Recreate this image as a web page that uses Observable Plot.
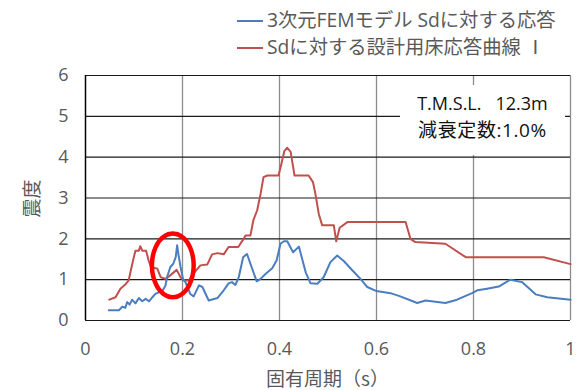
<!DOCTYPE html>
<html><head><meta charset="utf-8">
<script src="https://cdn.jsdelivr.net/npm/d3@7"></script>
<script src="https://cdn.jsdelivr.net/npm/@observablehq/plot@0.6"></script>
<style>
body{margin:0;background:#fff;font-family:"Open Sans","Noto Sans CJK JP",sans-serif}
#wrap{position:relative;width:576px;height:390px;overflow:hidden}
#chart{position:absolute;left:0;top:62px}
.leg{position:absolute;left:237px;font-size:19.3px;color:#595959;white-space:nowrap;line-height:22px}
.leg span.sw{display:inline-block;width:26px;height:2px;vertical-align:middle;margin-right:4px;position:relative;top:-1px}
#note{position:absolute;left:400px;top:85px;width:165px;height:70px;background:#fff;font-size:18px;color:#111;text-align:center;line-height:27px;padding-top:5px;box-sizing:border-box;white-space:nowrap}
#note .l2{font-size:19px;letter-spacing:0.6px}
#xtitle{position:absolute;left:85px;width:485px;top:364px;text-align:center;font-size:19px;color:#595959;font-family:"Noto Sans CJK JP",sans-serif}
#ytitle{position:absolute;left:8px;top:185px;width:44px;text-align:center;font-size:19px;color:#595959;transform:rotate(-90deg);font-family:"Noto Sans CJK JP",sans-serif}
</style></head>
<body>
<div id="wrap">
  <div class="leg" id="leg1" style="top:9px"></div>
  <div class="leg" id="leg2" style="top:36px"></div>
  <div id="chart"></div>
  <div id="note"></div>
  <div id="xtitle"></div>
  <div id="ytitle"></div>
</div>
<script>
const seriesNames = ["3次元FEMモデル Sdに対する応答", "Sdに対する設計用床応答曲線 Ⅰ"];
const seriesColors = ["#4a7ebf", "#c0504d"];
const xTicks = [0, 0.2, 0.4, 0.6, 0.8, 1];
const yTicks = [0, 1, 2, 3, 4, 5, 6];
const xTitle = "固有周期（s）";
const yTitle = "震度";
const noteLines = ["T.M.S.L.\u00a0\u00a0\u00a012.3m", "減衰定数:1.0%"];

// 3次元FEMモデル (blue) : period, seismic coefficient
const femPeriod = [0.048,0.069,0.076,0.082,0.086,0.091,0.096,0.103,0.110,0.117,0.124,0.131,0.138,0.144,0.151,0.158,0.165,0.168,0.175,0.181,0.186,0.189,0.192,0.196,0.201,0.206,0.216,0.223,0.234,0.241,0.254,0.272,0.285,0.295,0.302,0.309,0.316,0.325,0.333,0.340,0.353,0.361,0.371,0.385,0.394,0.402,0.409,0.416,0.428,0.440,0.454,0.464,0.478,0.491,0.505,0.519,0.533,0.550,0.567,0.581,0.600,0.629,0.649,0.684,0.701,0.742,0.766,0.797,0.808,0.828,0.852,0.876,0.900,0.928,0.952,1.000];
const femValue  = [0.25,0.25,0.34,0.31,0.45,0.39,0.51,0.42,0.55,0.47,0.53,0.47,0.57,0.65,0.69,0.71,0.86,1.06,1.31,1.39,1.55,1.84,1.59,1.31,1.02,0.94,0.65,0.59,0.86,0.82,0.49,0.55,0.74,0.91,0.94,0.87,1.06,1.55,1.63,1.39,0.96,1.02,1.14,1.28,1.47,1.88,1.94,1.94,1.67,1.81,1.18,0.91,0.90,1.06,1.43,1.59,1.45,1.23,1.02,0.82,0.72,0.67,0.59,0.43,0.49,0.43,0.51,0.67,0.74,0.78,0.83,1.00,0.94,0.64,0.57,0.51];

// 設計用床応答曲線 (red)
const designPeriod = [0.049,0.062,0.072,0.082,0.089,0.098,0.103,0.110,0.113,0.117,0.125,0.130,0.135,0.148,0.155,0.165,0.172,0.180,0.188,0.196,0.203,0.213,0.222,0.237,0.251,0.261,0.272,0.285,0.295,0.315,0.326,0.330,0.340,0.346,0.354,0.361,0.367,0.375,0.398,0.404,0.410,0.416,0.423,0.431,0.460,0.469,0.474,0.481,0.488,0.512,0.517,0.524,0.540,0.660,0.670,0.680,0.742,0.784,0.945,1.000];
const designValue  = [0.51,0.57,0.78,0.88,0.98,1.47,1.71,1.71,1.82,1.71,1.71,1.47,1.31,1.27,1.06,1.02,1.08,1.16,1.24,1.06,0.98,0.98,1.14,1.35,1.37,1.62,1.65,1.62,1.80,1.80,2.00,2.08,2.08,2.45,2.70,3.10,3.51,3.55,3.55,3.84,4.15,4.23,4.13,3.55,3.55,3.39,3.10,2.61,2.33,2.33,1.94,2.27,2.41,2.41,2.00,1.92,1.88,1.55,1.55,1.38];

// highlight ellipse: centre (x, y) and radii in data units
const highlightCenter = [0.180, 1.35];
const highlightRadius = [0.043, 0.78];

const fem = femPeriod.map((x, i) => ({x, y: femValue[i]}));
const design = designPeriod.map((x, i) => ({x, y: designValue[i]}));
const ellipse = d3.range(0, 73).map(k => {
  const t = k / 72 * 2 * Math.PI;
  return {x: highlightCenter[0] + highlightRadius[0] * Math.cos(t), y: highlightCenter[1] + highlightRadius[1] * Math.sin(t)};
});

const chart = Plot.plot({
  width: 576, height: 328,
  marginTop: 13, marginLeft: 85, marginRight: 6, marginBottom: 70,
  style: {fontFamily: '"Open Sans", "Noto Sans CJK JP", sans-serif', color: "#595959", background: "#fff"},
  x: {domain: [0, 1]},
  y: {domain: [0, 6]},
  marks: [
    Plot.ruleX(xTicks.filter(d => d > 0), {stroke: "#8c8c8c", strokeWidth: 1.3}),
    Plot.ruleY(yTicks, {stroke: "#1a1a1a", strokeWidth: 1.2}),
    Plot.ruleX([0], {stroke: "#000", strokeWidth: 1.5}),
    Plot.line(design, {x: "x", y: "y", stroke: seriesColors[1], strokeWidth: 2}),
    Plot.line(fem, {x: "x", y: "y", stroke: seriesColors[0], strokeWidth: 2}),
    Plot.line(ellipse, {x: "x", y: "y", stroke: "#ff0000", strokeWidth: 4.5, curve: "catmull-rom"}),
    Plot.axisX({ticks: xTicks, tickSize: 0, tickPadding: 22, fontSize: 18, label: null, tickFormat: d => String(+d.toFixed(1))}),
    Plot.axisY({ticks: yTicks, tickSize: 0, tickPadding: 17, fontSize: 18, label: null, tickFormat: d => String(d)})
  ]
});
document.getElementById("chart").appendChild(chart);

document.getElementById("leg1").innerHTML = `<span class="sw" style="background:${seriesColors[0]}"></span>${seriesNames[0]}`;
document.getElementById("leg2").innerHTML = `<span class="sw" style="background:${seriesColors[1]}"></span>${seriesNames[1]}`;
document.getElementById("note").innerHTML = `<div>${noteLines[0]}</div><div class="l2">${noteLines[1]}</div>`;
document.getElementById("xtitle").textContent = xTitle;
document.getElementById("ytitle").textContent = yTitle;
</script>
</body></html>
